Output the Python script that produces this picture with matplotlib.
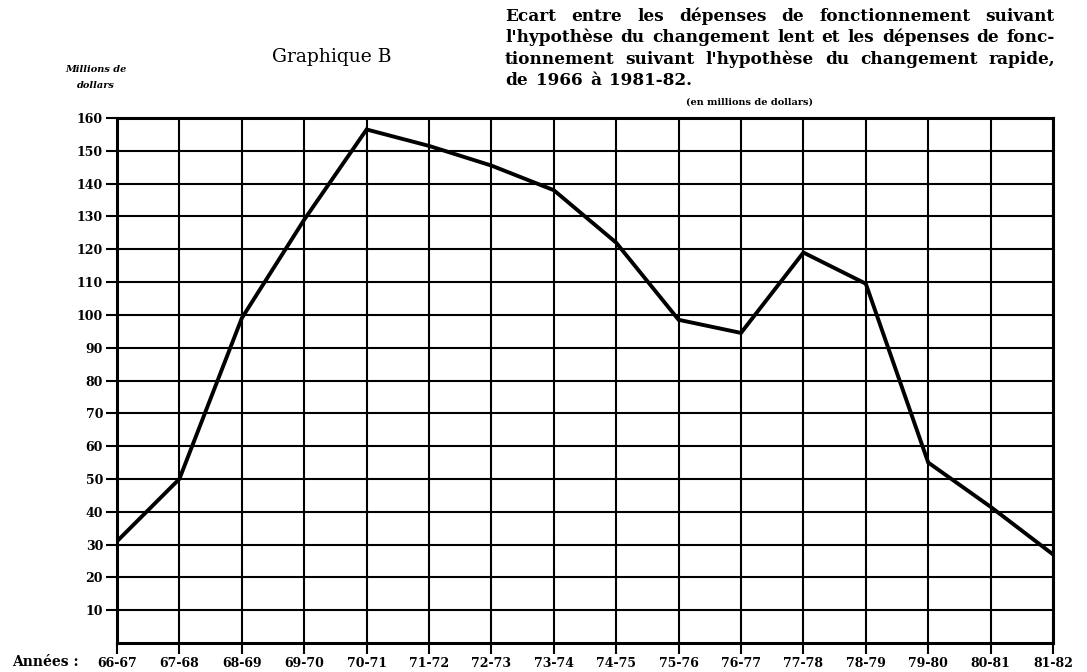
import numpy as np
import matplotlib
matplotlib.use("Agg")
import matplotlib.pyplot as plt
from matplotlib.transforms import IdentityTransform

years = ["66-67", "67-68", "68-69", "69-70", "70-71", "71-72", "72-73", "73-74",
         "74-75", "75-76", "76-77", "77-78", "78-79", "79-80", "80-81", "81-82"]
ecart = [31, 50, 99, 129, 156.5, 151.5, 145.5, 138, 122, 98.5, 94.5, 119, 109.5, 55, 41.5, 27]
yticks = list(range(10, 161, 10))

title_lines = [
    "Ecart entre les dépenses de fonctionnement suivant",
    "l'hypothèse du changement lent et les dépenses de fonc-",
    "tionnement suivant l'hypothèse du changement rapide,",
    "de 1966 à 1981-82.",
]

W, H = 1087, 672
fig = plt.figure(figsize=(W / 100, H / 100), dpi=100)
ax = fig.add_axes([117 / W, 29 / H, (1053 - 117) / W, (643 - 118) / H])

x = np.arange(len(years))
ax.plot(x, ecart, color="black", lw=2.8, solid_joinstyle="miter", zorder=3)

ax.set_xlim(0, len(years) - 1)
ax.set_ylim(0, 160)
ax.set_xticks(x)
ax.set_xticklabels(years)
ax.set_yticks(yticks)
ax.grid(True, color="black", lw=1.5)
for s in ax.spines.values():
    s.set_linewidth(2.2)
ax.tick_params(axis="both", direction="out", length=8, width=1.5, colors="black")
ax.tick_params(axis="x", pad=2)
ax.tick_params(axis="y", pad=2)
for lab in ax.get_xticklabels() + ax.get_yticklabels():
    lab.set_fontfamily("DejaVu Serif")
    lab.set_fontweight("bold")
    lab.set_fontsize(9)

fig.text(12 / W, 1 - 662 / H, "Années :", family="DejaVu Serif", weight="bold",
         fontsize=10, va="center", ha="left")
fig.text(96 / W, 1 - 70 / H, "Millions de", family="DejaVu Serif", weight="bold",
         style="italic", fontsize=7, ha="center", va="center")
fig.text(96 / W, 1 - 85 / H, "dollars", family="DejaVu Serif", weight="bold",
         style="italic", fontsize=7, ha="center", va="center")
fig.text(332 / W, 1 - 57 / H, "Graphique B", family="DejaVu Serif", fontsize=13.5,
         ha="center", va="center")
fig.text(750 / W, 1 - 102 / H, "(en millions de dollars)", family="DejaVu Serif",
         weight="bold", fontsize=7, ha="center", va="center")

# justified title block
renderer = fig.canvas.get_renderer()
x0, x1 = 505, 1055
for i, line in enumerate(title_lines):
    yb = H - (21 + 21.3 * i)
    words = line.split(" ")
    texts = [fig.text(0, yb, w, transform=IdentityTransform(), family="DejaVu Serif",
                      weight="bold", fontsize=12.2, ha="left", va="baseline")
             for w in words]
    widths = [t.get_window_extent(renderer).width for t in texts]
    if i < len(title_lines) - 1:
        gap = (x1 - x0 - sum(widths)) / (len(words) - 1)
    else:
        gap = 8
    pos = x0
    for t, w in zip(texts, widths):
        t.set_x(pos)
        pos += w + gap

fig.savefig("out.png", dpi=100)
